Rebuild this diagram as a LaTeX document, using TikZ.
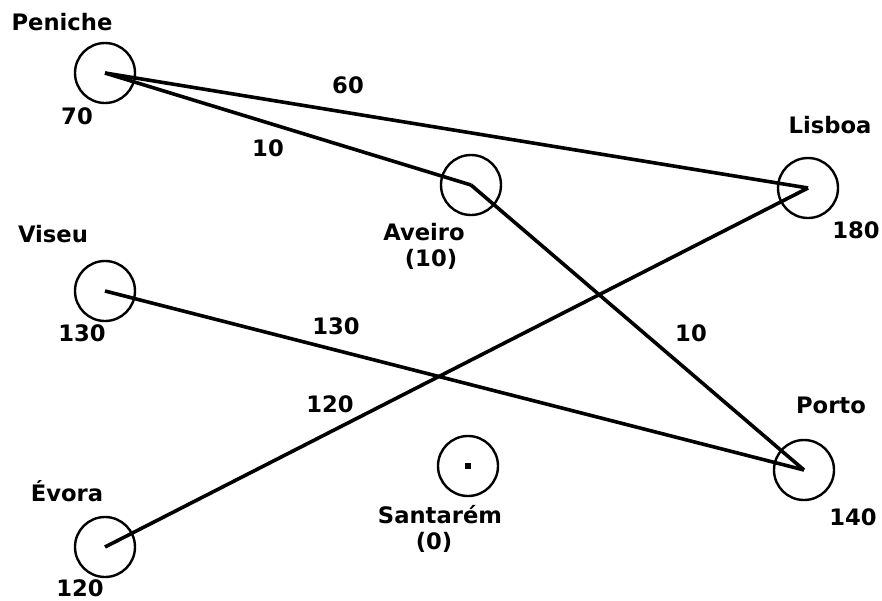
\documentclass[tikz,border=0pt]{standalone}
\usepackage{fontspec}
\setmainfont{DejaVu Sans}

\begin{document}
\begin{tikzpicture}[x=0.75pt,y=-0.75pt,
  town/.style={draw,circle,line width=1.8pt,minimum size=45pt,inner sep=0pt},
  road/.style={line width=2.7pt},
  lbl/.style={font=\bfseries\fontsize{17}{19}\selectfont,inner sep=0pt,text height=12.4pt,text depth=0pt}]
  \useasboundingbox (0,0) rectangle (882,600);
  % towns
  \node[town] (peniche) at (105,73) {};
  \node[town] (viseu) at (105,291) {};
  \node[town] (evora) at (105,547) {};
  \node[town] (aveiro) at (471,185) {};
  \node[town] (santarem) at (468,466) {};
  \node[town] (lisboa) at (808,188) {};
  \node[town] (porto) at (804,470) {};
  \node[fill,inner sep=0pt,minimum size=4pt] (santdot) at (santarem.center) {};
  % names and values
  \node[lbl] (penicheN) at (62,22) {Peniche};
  \node[lbl] (penicheV) at (77,116) {70};
  \node[lbl] (viseuN) at (53,234) {Viseu};
  \node[lbl] (viseuV) at (82,333) {130};
  \node[lbl] (evoraN) at (67,493) {Évora};
  \node[lbl] (evoraV) at (80,588) {120};
  \node[lbl] (aveiroN) at (424,232) {Aveiro};
  \node[lbl] (aveiroV) at (431,258) {(10)};
  \node[lbl] (santaremN) at (440,515) {Santarém};
  \node[lbl] (santaremV) at (434,541) {(0)};
  \node[lbl] (lisboaN) at (830,125) {Lisboa};
  \node[lbl] (lisboaV) at (856,230) {180};
  \node[lbl] (portoN) at (831,405) {Porto};
  \node[lbl] (portoV) at (853,517) {140};
  % roads
  \draw[road] (peniche.center) -- (lisboa.center);
  \draw[road] (peniche.center) -- (aveiro.center);
  \draw[road] (aveiro.center) -- (porto.center);
  \draw[road] (viseu.center) -- (porto.center);
  \draw[road] (evora.center) -- (lisboa.center);
  \node[lbl] (w60) at (348,85) {60};
  \node[lbl] (w10a) at (268,148) {10};
  \node[lbl] (w130) at (336,326) {130};
  \node[lbl] (w120) at (330,404) {120};
  \node[lbl] (w10b) at (691,333) {10};
\end{tikzpicture}
\end{document}
